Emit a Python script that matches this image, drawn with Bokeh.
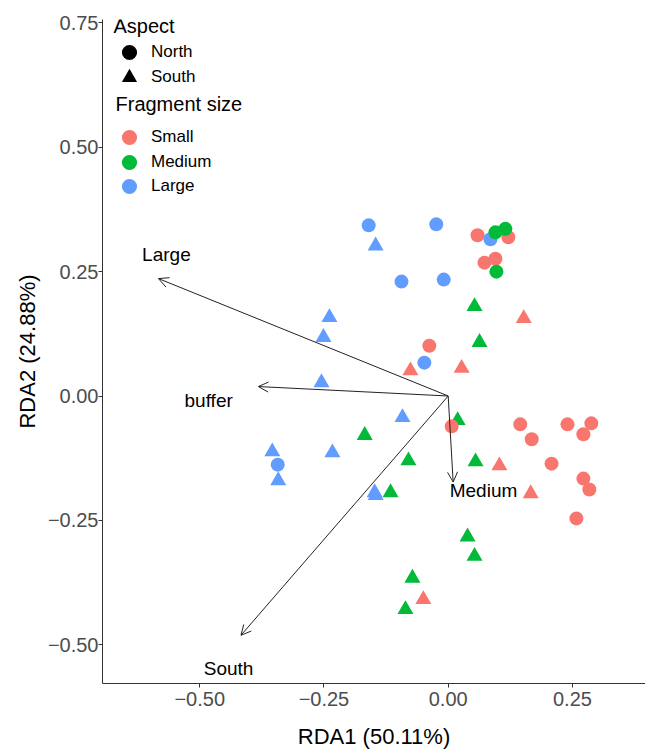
from bokeh.plotting import figure
from bokeh.models import (ColumnDataSource, Range1d, FixedTicker, Arrow, OpenHead,
                          Legend, LegendItem, Label)
from bokeh.core.properties import value
from bokeh.embed import file_html
from bokeh.resources import INLINE

FONT = "Liberation Sans"
NAN = float("nan")

# ---- data (RDA site scores) ----
large_north_x = [-0.160, -0.024, -0.094, -0.009, -0.048, -0.343, 0.085]
large_north_y = [0.343, 0.345, 0.230, 0.234, 0.067, -0.138, 0.315]
large_south_x = [-0.146, -0.239, -0.251, -0.255, -0.092, -0.354, -0.342, -0.233, -0.148, -0.146]
large_south_y = [0.302, 0.158, 0.118, 0.027, -0.043, -0.112, -0.170, -0.114, -0.194, -0.200]
medium_north_x = [0.095, 0.115, 0.097]
medium_north_y = [0.329, 0.336, 0.250]
medium_south_x = [0.053, 0.063, 0.019, -0.168, -0.080, 0.055, -0.116, 0.039, 0.053, -0.072, -0.086]
medium_south_y = [0.180, 0.108, -0.049, -0.079, -0.130, -0.132, -0.194, -0.283, -0.322, -0.366, -0.429]
small_north_x = [0.059, 0.121, 0.073, 0.095, -0.038, 0.007, 0.145, 0.240, 0.288, 0.272, 0.168, 0.208, 0.272, 0.284, 0.258]
small_north_y = [0.323, 0.319, 0.268, 0.276, 0.101, -0.061, -0.057, -0.057, -0.055, -0.077, -0.087, -0.136, -0.166, -0.188, -0.246]
small_south_x = [0.152, -0.076, 0.027, 0.103, 0.166, -0.050]
small_south_y = [0.156, 0.051, 0.056, -0.140, -0.196, -0.409]

# ---- biplot arrows (explanatory variables) ----
arrow_names = ["Large", "buffer", "South", "Medium"]
arrow_x = [-0.583, -0.382, -0.417, 0.010]
arrow_y = [0.236, 0.019, -0.481, -0.173]
label_x = [-0.567, -0.482, -0.442, 0.071]
label_y = [0.284, -0.009, -0.547, -0.190]

x_ticks = [-0.5, -0.25, 0.0, 0.25]
y_ticks = [-0.5, -0.25, 0.0, 0.25, 0.5, 0.75]

aspect_labels = ["North", "South"]
aspect_markers = ["circle", "triangle"]
size_labels = ["Small", "Medium", "Large"]
size_colors = ["#F8766D", "#00BA38", "#619CFF"]
COL_SMALL, COL_MEDIUM, COL_LARGE = size_colors

p = figure(width=645, height=753, output_backend="svg", toolbar_location=None,
           x_range=Range1d(-0.6956, 0.397), y_range=Range1d(-0.5779, 0.7568),
           min_border_left=102, min_border_right=0, min_border_top=19, min_border_bottom=70)
p.background_fill_color = "white"
p.border_fill_color = "white"
p.outline_line_color = None
p.xgrid.grid_line_color = None
p.ygrid.grid_line_color = None

def fmt(v):
    s = "%.2f" % abs(v)
    return ("\u2212" + s) if v < 0 else s

for ax, ticks in ((p.xaxis[0], x_ticks), (p.yaxis[0], y_ticks)):
    ax.ticker = FixedTicker(ticks=ticks)
    ax.major_label_overrides = {t: fmt(t) for t in ticks}
    ax.minor_tick_line_color = None
    ax.major_tick_in = 0
    ax.major_tick_out = 4
    ax.major_tick_line_color = "#333333"
    ax.axis_line_color = "#333333"
    ax.axis_line_width = 1
    ax.major_label_text_font = FONT
    ax.major_label_text_font_size = "20px"
    ax.major_label_text_color = "#4D4D4D"
    ax.axis_label_text_font = FONT
    ax.axis_label_text_font_size = "22px"
    ax.axis_label_text_font_style = "normal"
    ax.axis_label_text_color = "black"

p.xaxis.axis_label = "RDA1 (50.11%)"
p.yaxis.axis_label = "RDA2 (24.88%)"
p.xaxis.major_label_standoff = 4
p.yaxis.major_label_standoff = 0
p.xaxis.axis_label_standoff = 15
p.yaxis.axis_label_standoff = 5

# ---- points: triangles (South) first, then circles (North) ----
TRI = 16
CIR = 14
p.scatter(large_south_x, large_south_y, marker="triangle", size=TRI, color=COL_LARGE, line_width=0)
p.scatter(medium_south_x, medium_south_y, marker="triangle", size=TRI, color=COL_MEDIUM, line_width=0)
p.scatter(small_south_x, small_south_y, marker="triangle", size=TRI, color=COL_SMALL, line_width=0)
p.scatter(small_north_x, small_north_y, marker="circle", size=CIR, color=COL_SMALL, line_width=0)
p.scatter(large_north_x, large_north_y, marker="circle", size=CIR, color=COL_LARGE, line_width=0)
p.scatter(medium_north_x, medium_north_y, marker="circle", size=CIR, color=COL_MEDIUM, line_width=0)

# ---- arrows and labels ----
asrc = ColumnDataSource(dict(x0=[0.0] * len(arrow_x), y0=[0.0] * len(arrow_y), x1=arrow_x, y1=arrow_y))
p.add_layout(Arrow(source=asrc, x_start="x0", y_start="y0", x_end="x1", y_end="y1",
                   line_color="#222222", line_width=1,
                   end=OpenHead(size=10, line_color="#222222", line_width=1)))
p.text(x=label_x, y=label_y, text=arrow_names, text_font=value(FONT), text_font_size="19px",
       text_align="center", text_baseline="middle", text_color="black")

# ---- legends (one legend per key row so rows can sit close together) ----
FRAME_BOTTOM = 683  # screen y of the frame bottom (border top + frame height)
GLYPH = 38

def add_key(label, marker, color, center_y):
    r = p.scatter(x=[NAN], y=[NAN], marker=marker, size=CIR, color=color, line_width=0)
    lg = Legend(items=[LegendItem(label=label, renderers=[r])],
                location=(8, FRAME_BOTTOM - (center_y + GLYPH // 2)),
                label_text_font=FONT, label_text_font_size="17px", label_text_color="black",
                glyph_width=GLYPH, glyph_height=GLYPH, label_height=GLYPH, label_standoff=3,
                spacing=0, padding=0, margin=0,
                border_line_alpha=0, background_fill_alpha=0)
    p.add_layout(lg)

def add_title(text, x, baseline_y):
    p.add_layout(Label(x=x, y=FRAME_BOTTOM - baseline_y, x_units="screen", y_units="screen",
                       text=text, text_font=FONT, text_font_size="20px", text_color="black",
                       text_baseline="alphabetic", text_align="left"))

add_title("Aspect", 11, 25)
for lab, mk, cy in zip(aspect_labels, aspect_markers, [52, 77]):
    add_key(lab, mk, "black", cy)
add_title("Fragment size", 13, 103)
for lab, col, cy in zip(size_labels, size_colors, [137, 162, 186]):
    add_key(lab, "circle", col, cy)

open("out.html", "w").write(file_html(p, INLINE))
